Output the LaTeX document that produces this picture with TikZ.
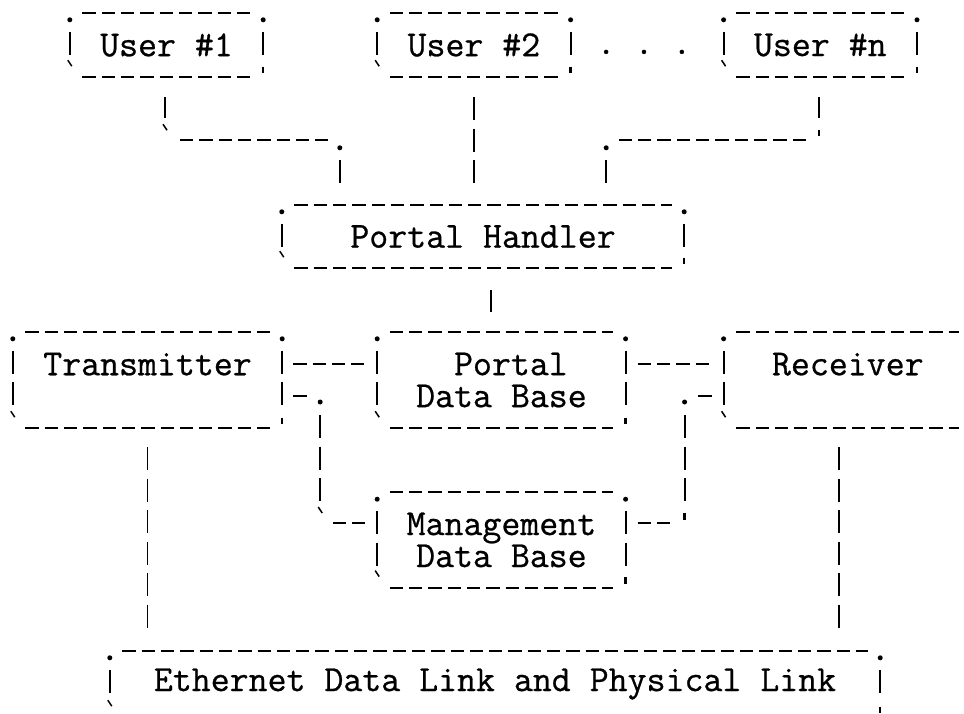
\documentclass[tikz,border=0pt]{standalone}
\usepackage{fontspec}
\newfontfamily\ttyfont[FakeBold=0.7]{Latin Modern Mono}
\newcommand\asciifont{\ttyfont\fontsize{36.8}{32}\selectfont}
\usetikzlibrary{positioning}
\tikzset{
 asciibox/.style={
 rectangle,
 inner sep=0pt,
 align=center,
 font=\asciifont},
 userbox/.style={
 asciibox,
 minimum width=193pt,
 minimum height=64pt},
 dashrow/.style={line width=1.9pt, dash pattern=on 13.3pt off 6pt},
 barcol/.style={line width=1.9pt, dash pattern=on 23pt off 8.5pt},
 dotmark/.pic={\fill (0,0) circle (2.5pt);},
 grave/.pic={\draw[line width=1.5pt] (-2,-3) -- (2,3);},
 quote/.pic={\draw[line width=2.4pt] (0,-3.5) -- (0,3);}
}

\begin{document}
\begin{tikzpicture}[x=1pt, y=-1pt]
 \path[use as bounding box] (0,0) rectangle (964,713);
 \clip (0,0) rectangle (964,713);

 \node[userbox] (user1) at (166.5,45) {User \#1};
 \node[userbox, right=114pt of user1] (user2) {User \#2};
 \node[userbox, right=153pt of user2] (usern) {User \#n};
 \node[asciibox, anchor=base] (more) at (644,54) {.~.~.};

 \node[asciibox, minimum width=402pt, minimum height=63pt] (handler) at (483,236.5) {Portal Handler};

 \node[asciibox, minimum width=269pt, minimum height=96pt] (trans) at (147.5,380) {Transmitter\\\mbox{}};
 \node[asciibox, minimum width=248pt, minimum height=96pt, right=95pt of trans] (pdb) {~~Portal~~\\Data~Base~};
 \node[asciibox, minimum width=248pt, minimum height=96pt, right=98pt of pdb] (recv) {Receiver\\\mbox{}};
 \node[asciibox, minimum width=248pt, minimum height=95pt, below=64pt of pdb] (mdb) {Management\\Data~Base~};

 \node[asciibox, minimum width=770pt, minimum height=66pt] (eth) at (495,684) {Ethernet Data Link and Physical Link};

 % typed frames round the boxes
 \foreach \b in {user1,user2,usern,handler,trans,pdb,recv,mdb,eth} {
  \draw[dashrow] ([xshift=12.6pt]\b.north west) -- ([xshift=-12.6pt]\b.north east);
  \draw[dashrow] ([xshift=12.6pt]\b.south west) -- ([xshift=-12.6pt]\b.south east);
  \draw[barcol] ([yshift=-19pt]\b.north west) -- ([yshift=20pt]\b.south west);
  \draw[barcol] ([yshift=-19pt]\b.north east) -- ([yshift=20pt]\b.south east);
  \pic at ([yshift=-7pt]\b.north west) {dotmark};
  \pic at ([yshift=-7pt]\b.north east) {dotmark};
  \pic at ([yshift=14pt]\b.south west) {grave};
  \pic at ([yshift=7pt]\b.south east) {quote};
 }

 % users to handler
 \draw[barcol] ([shift={(-1.5,20)}]user1.south) -- ++(0,21);
 \pic at ([shift={(-1.5,50)}]user1.south) {grave};
 \draw[dashrow] ([shift={(13.5,63)}]user1.south) -- ++(148,0);
 \pic at ([shift={(58,-57)}]handler.north west) {dotmark};
 \draw[barcol] ([shift={(58,-45)}]handler.north west) -- ++(0,23);

 \draw[barcol] ([yshift=-20pt]user2.south) -- ([yshift=20pt]user2.south |- handler.north);

 \draw[barcol] ([shift={(-1.5,20)}]usern.south) -- ++(0,21);
 \pic at ([shift={(-1.5,56)}]usern.south) {quote};
 \draw[dashrow] ([shift={(-14.5,63)}]usern.south) -- ++(-187,0);
 \pic at ([shift={(-78,-57)}]handler.north east) {dotmark};
 \draw[barcol] ([shift={(-78,-45)}]handler.north east) -- ++(0,23);

 % handler to data base
 \draw[barcol] ([shift={(8,22)}]handler.south) -- ++(0,22);

 % transmitter, portal data base, receiver
 \draw[dashrow] ([shift={(11,-16)}]trans.east) -- ([shift={(-12,-16)}]pdb.west);
 \draw[dashrow] ([shift={(12,-16)}]pdb.east) -- ([shift={(-12,-16)}]recv.west);

 % management data base
 \draw[dashrow] ([shift={(11,16)}]trans.east) -- ++(13.3,0);
 \pic at ([shift={(38,22)}]trans.east) {dotmark};
 \draw[barcol] ([shift={(38,35)}]trans.east) -- ++(0,88);
 \pic at ([shift={(38,130)}]trans.east) {grave};
 \draw[dashrow] ([shift={(-12,-16.5)}]mdb.west) -- ++(-33,0);

 \draw[dashrow] ([shift={(12,-16.5)}]mdb.east) -- ++(33,0);
 \pic at ([shift={(59,-23)}]mdb.east) {quote};
 \draw[barcol] ([shift={(-39,35)}]recv.west) -- ++(0,88);
 \pic at ([shift={(-39,22)}]recv.west) {dotmark};
 \draw[dashrow] ([shift={(-12,16)}]recv.west) -- ++(-13.3,0);

 % down to the link
 \draw[barcol] ([yshift=-19pt]trans.south) -- ([yshift=21pt]trans.south |- eth.north);
 \draw[barcol] ([shift={(-9,19)}]recv.south) -- ([shift={(-9,-21)}]recv.south |- eth.north);
\end{tikzpicture}
\end{document}
